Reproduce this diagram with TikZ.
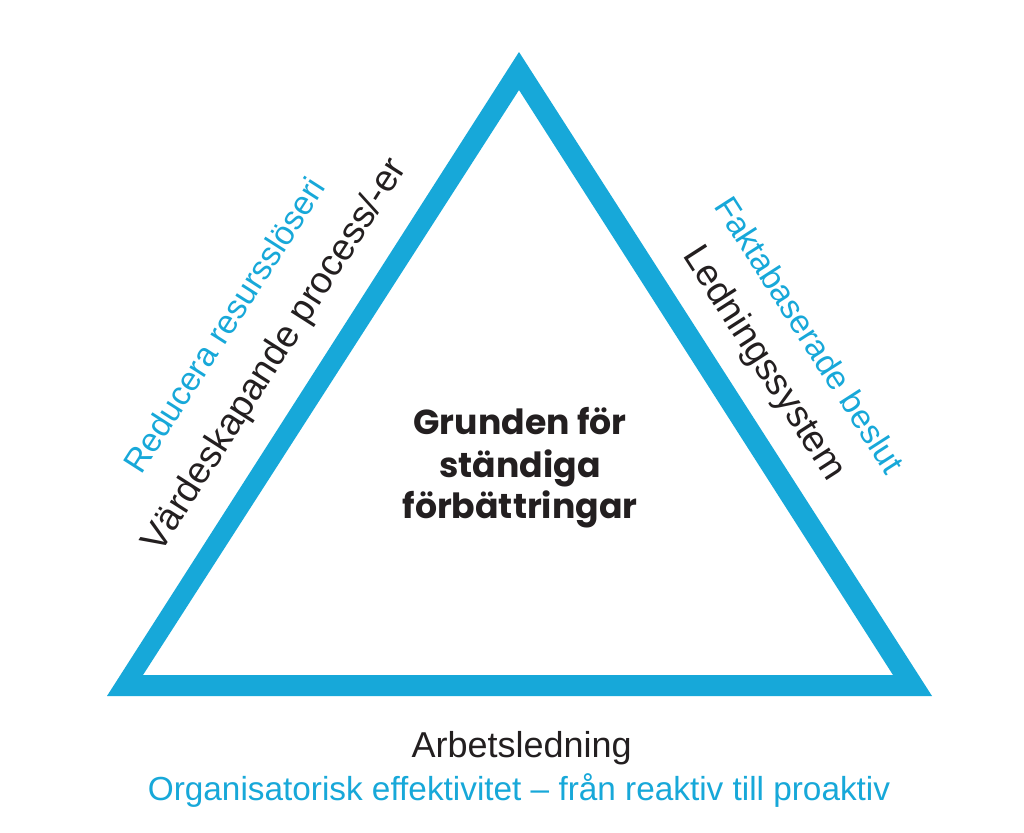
\documentclass[tikz,border=0pt]{standalone}
\usepackage{fontspec}
\setmainfont{Liberation Sans}
\newfontfamily\popfont{Poppins}
\definecolor{triblue}{RGB}{23,168,217}
\definecolor{txtblack}{RGB}{35,31,32}
\begin{document}
\begin{tikzpicture}[x=0.75pt,y=-0.75pt,
  blk/.style={text=txtblack,font=\fontsize{27}{32}\selectfont,inner sep=0pt,anchor=base},
  rblk/.style={text=txtblack,font=\fontsize{28}{33}\selectfont,inner sep=0pt,anchor=base},
  blu/.style={text=triblue,font=\fontsize{25}{30}\selectfont,inner sep=0pt,anchor=base},
  ctr/.style={text=txtblack,font=\popfont\bfseries\fontsize{26}{31}\selectfont,inner sep=0pt,anchor=base}]
\useasboundingbox[fill=white] (0,0) rectangle (1024,832);
\fill[triblue,even odd rule] (107,696) -- (519,52) -- (932,696) -- cycle
  (143,675) -- (519,90) -- (893,675) -- cycle;
\node[rblk,rotate=57.4] (lblk) at (284,361) {Värdeskapande process/-er};
\node[blu,rotate=57.4] (lblu) at (234,331.5) {Reducera resursslöseri};
\node[blu,rotate=-57.3] (rblu) at (800,341) {Faktabaserade beslut};
\node[rblk,rotate=-57.3] (rblk) at (755,369) {Ledningssystem};
\node[blk] (bot) at (521.7,757.3) {Arbetsledning};
\node[blu] (bot2) at (519,800) {Organisatorisk effektivitet – från reaktiv till proaktiv};
\node[ctr] (c1) at (520,434) {Grunden för};
\node[ctr] (c2) at (520,477) {ständiga};
\node[ctr] (c3) at (520,518) {förbättringar};
\end{tikzpicture}
\end{document}
